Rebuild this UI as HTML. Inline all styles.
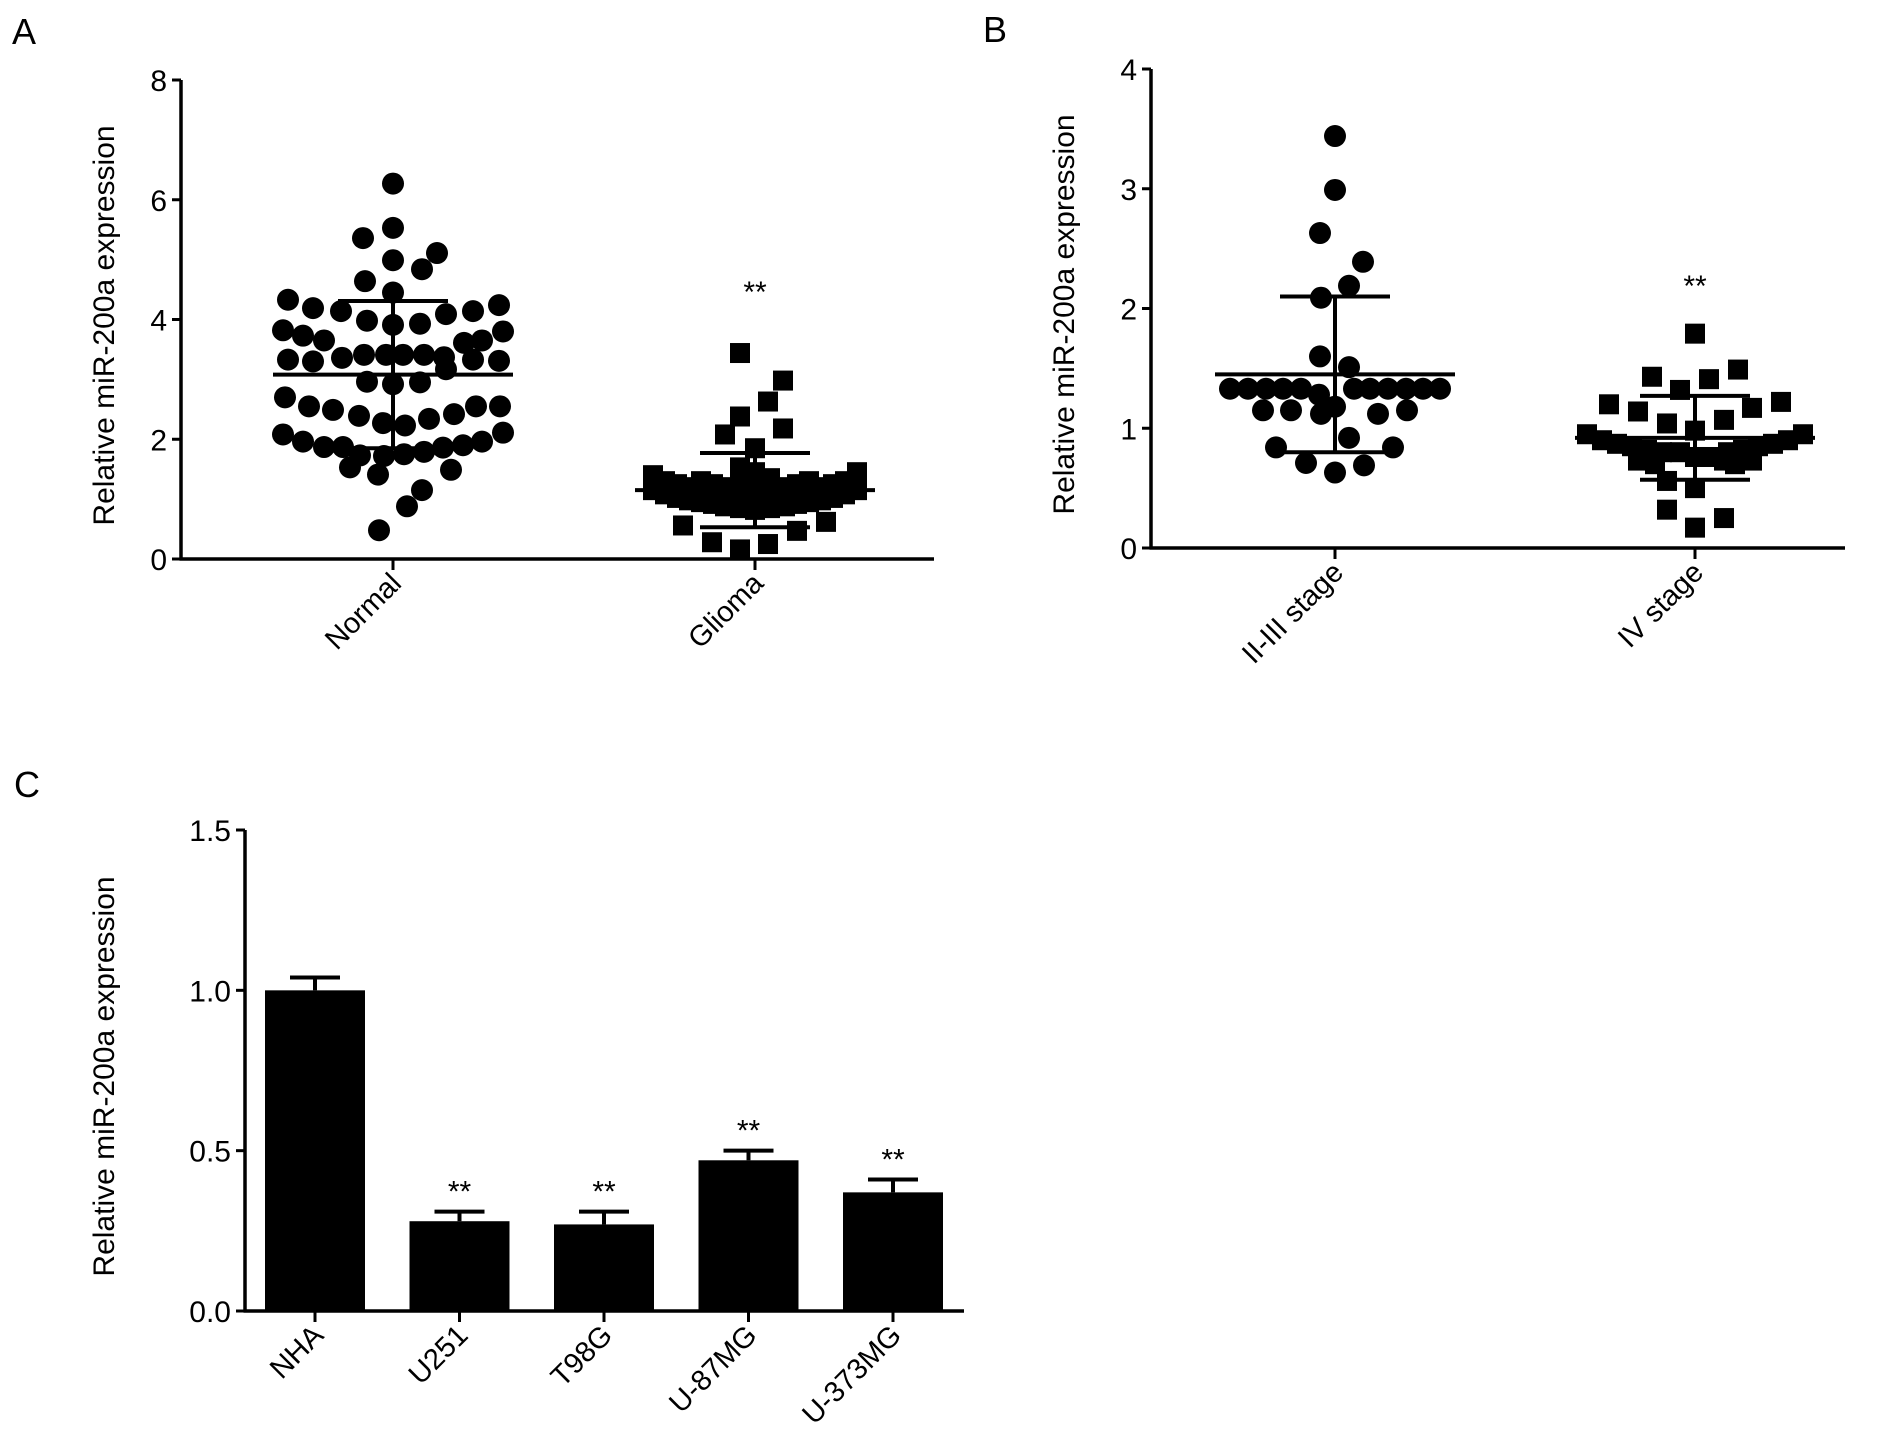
<!DOCTYPE html>
<html><head><meta charset="utf-8"><style>
body{margin:0;background:#fff}
svg{display:block;font-family:"Liberation Sans",Arial,sans-serif}
</style></head><body>
<svg id="fig" width="1890" height="1448" viewBox="0 0 1890 1448">
<text x="12" y="44" font-size="36">A</text>
<text x="983" y="42" font-size="36">B</text>
<text x="14" y="797" font-size="36">C</text>
</svg>
<script>
// ---- Panel A data ----
const aCategories = ["Normal", "Glioma"];
const aNormalValues = [6.27,5.53,5.36,5.11,4.99,4.84,4.64,4.45,4.33,4.24,4.19,4.14,4.14,4.09,3.98,3.91,3.93,3.82,3.80,3.73,3.65,3.65,3.61,3.33,3.30,3.36,3.41,3.41,3.41,3.41,3.37,3.33,3.31,3.17,2.96,2.92,2.95,2.70,2.55,2.49,2.39,2.42,2.34,2.55,2.55,2.27,2.23,2.08,1.96,1.87,1.87,1.73,1.72,1.75,1.79,1.86,1.90,1.96,2.11,1.53,1.41,1.49,1.15,0.88,0.48];
const aNormalJitter = [0,0,-30,44,0,29,-28,0,-105,106,-80,-52,80,53,-26,0,27,-110,110,-90,-69,89,71,-105,-80,-51,-29,-7,10,31,51,80,106,53,-26,0,27,-108,-84,-60,-34,61,36,83,107,-10,12,-110,-90,-69,-50,-33,-9,11,31,50,70,89,110,-43,-15,58,29,14,-14];
const aGliomaValues = [3.44,2.98,2.63,2.38,2.18,2.08,1.85,1.53,0.56,0.28,0.16,0.25,0.47,0.62,
 1.40,1.15,1.30,1.08,1.25,1.02,1.20,0.98,1.15,0.95,1.30,1.12,0.92,1.25,1.10,0.88,1.20,1.05,0.85,1.35,1.00,0.82,1.45,1.25,1.05,0.85,1.35,1.10,0.88,1.20,1.12,0.92,1.25,1.15,0.95,1.30,1.20,0.98,1.25,1.02,1.30,1.08,1.45,1.15];
const aGliomaJitter = [-15,28,13,-15,28,-30,0,-15,-72,-43,-15,13,42,71,
 -102,-102,-90,-90,-78,-78,-66,-66,-54,-54,-54,-42,-42,-42,-30,-30,-30,-15,-15,-15,0,0,0,0,15,15,15,30,30,30,42,42,42,54,54,54,66,66,78,78,90,90,102,102];
const aMean = [3.08, 1.15];
const aSD = [1.23, 0.62];
const aTicks = [0,2,4,6,8];

// ---- Panel B data ----
const bCategories = ["II-III stage", "IV stage"];
const bEarlyValues = [3.44,2.99,2.63,2.39,2.19,2.09,1.60,1.51,1.33,1.33,1.33,1.33,1.33,1.28,1.33,1.33,1.33,1.33,1.33,1.33,1.15,1.15,1.12,1.18,1.12,1.15,0.92,0.84,0.84,0.71,0.69,0.63];
const bEarlyJitter = [0,0,-15,28,14,-14,-15,14,-105,-87,-69,-52,-34,-16,19,35,53,71,88,105,-72,-44,-14,0,43,72,14,-59,58,-29,29,0];
const bLateValues = [1.79,1.49,1.43,1.41,1.32,1.20,1.22,1.14,1.17,1.07,1.04,0.98,0.95,0.90,0.87,0.85,0.82,0.80,0.80,0.82,0.85,0.87,0.90,0.95,0.73,0.56,0.50,0.73,0.73,0.32,0.25,0.17,0.80,0.76,0.70,0.70,0.76];
const bLateJitter = [0,43,-43,14,-15,-86,86,-57,57,29,-28,0,-108,-93,-78,-63,-48,-33,33,48,63,78,93,108,-57,-28,0,29,57,-28,29,0,-15,15,-40,40,0];
const bMean = [1.45, 0.92];
const bSD = [0.65, 0.35];
const bTicks = [0,1,2,3,4];

// ---- Panel C data ----
const cCategories = ["NHA","U251","T98G","U-87MG","U-373MG"];
const cValues = [1.0,0.28,0.27,0.47,0.37];
const cErrors = [0.04,0.03,0.04,0.03,0.04];
const cSig = ["","**","**","**","**"];
const cTicks = [0.0,0.5,1.0,1.5];
const cTickLabels = ["0.0","0.5","1.0","1.5"];

const NS = "http://www.w3.org/2000/svg";
const svg = document.getElementById("fig");
function mk(tag, attrs, parent){
  const e = document.createElementNS(NS, tag);
  for (const k in attrs) e.setAttribute(k, attrs[k]);
  (parent||svg).appendChild(e);
  return e;
}
function line(g,x1,y1,x2,y2,w){ return mk("line",{x1,y1,x2,y2,stroke:"#000","stroke-width":w||3.5},g); }

function axes(g, P, ticks, labels, title, cats, catX, prefix){
  const yl = line(g,P.x0,P.yBot+1.5,P.x0,P.yTop,3.5);
  
  
  const xl = line(g,P.x0-1.5,P.yBot,P.x1,P.yBot,3.5);
  
  
  ticks.forEach((t,i)=>{
    const y = P.y(t);
    line(g,P.x0-9,y,P.x0,y,3);
    const tx = mk("text",{x:P.x0-14,y:y+11,"font-size":30,"text-anchor":"end"},g);
    tx.textContent = labels ? labels[i] : String(t);
    
    
  });
  const tt = mk("text",{x:0,y:0,"font-size":30,"text-anchor":"middle",transform:`translate(${P.titleX+6},${(P.yTop+P.yBot)/2 + 6}) rotate(-90)`},g);
  tt.textContent = title;
  
  
  cats.forEach((c,i)=>{
    const x = catX(i);
    line(g,x,P.yBot,x,P.yBot+11,3);
    const ct = mk("text",{x:0,y:0,"font-size":29,"text-anchor":"end",transform:`translate(${x+10},${P.yBot+26}) rotate(-45)`},g);
    ct.textContent = c;
    
    
  });
}

function scatterPanel(prefix, P, cats, groups, means, sds, ticks){
  const g = mk("g",{});
  
  
  const catX = i => P.cx[i];
  axes(g,P,ticks,null,"Relative miR-200a expression",cats,catX,prefix);
  groups.forEach((grp,gi)=>{
    const cx = catX(gi);
    grp.vals.forEach((v,i)=>{
      const x = cx + grp.jit[i], y = P.y(v);
      let m;
      if (grp.shape==="circle") m = mk("circle",{cx:x,cy:y,r:11,fill:"#000"},g);
      else m = mk("rect",{x:x-10,y:y-10,width:20,height:20,fill:"#000"},g);
      
      
    });
    const ym = P.y(means[gi]), yh = P.y(means[gi]+sds[gi]), ylo = P.y(means[gi]-sds[gi]);
    const ml = line(g,cx-120,ym,cx+120,ym,4);
    
    
    const el = line(g,cx,yh,cx,ylo,4);
    
    
    line(g,cx-55,yh,cx+55,yh,4);
    line(g,cx-55,ylo,cx+55,ylo,4);
  });
  const st = mk("text",{x:P.cx[1],y:P.starY,"font-size":30,"text-anchor":"middle"},g);
  st.textContent = "**";
  
  
}

// Panel A
const PA = {x0:181,x1:934,yBot:559,yTop:80,titleX:108,cx:[393,755],starY:302};
PA.y = v => PA.yBot - v*(PA.yBot-PA.yTop)/8;
scatterPanel("a",PA,aCategories,[
  {vals:aNormalValues,jit:aNormalJitter,shape:"circle"},
  {vals:aGliomaValues,jit:aGliomaJitter,shape:"square"}],aMean,aSD,aTicks);

// Panel B
const PB = {x0:1151,x1:1845,yBot:548,yTop:69,titleX:1068,cx:[1335,1695],starY:296};
PB.y = v => PB.yBot - v*(PB.yBot-PB.yTop)/4;
scatterPanel("b",PB,bCategories,[
  {vals:bEarlyValues,jit:bEarlyJitter,shape:"circle"},
  {vals:bLateValues,jit:bLateJitter,shape:"square"}],bMean,bSD,bTicks);

// Panel C
const PC = {x0:245,x1:964,yBot:1311,yTop:830,titleX:108};
PC.y = v => PC.yBot - v*(PC.yBot-PC.yTop)/1.5;
const gc = mk("g",{});


const cX = i => 315 + i*144.5;
axes(gc,PC,cTicks,cTickLabels,"Relative miR-200a expression",cCategories,cX,"c");
cValues.forEach((v,i)=>{
  const x = cX(i), y = PC.y(v), yt = PC.y(v+cErrors[i]);
  const b = mk("rect",{x:x-50,y:y,width:100,height:PC.yBot-y,fill:"#000"},gc);
  
  
  const e = line(gc,x,y,x,yt,4);
  
  
  line(gc,x-25,yt,x+25,yt,4);
  if (cSig[i]){
    const s = mk("text",{x:x,y:yt-10,"font-size":30,"text-anchor":"middle"},gc);
    s.textContent = cSig[i];
    
    
  }
});
</script>
</body></html>
